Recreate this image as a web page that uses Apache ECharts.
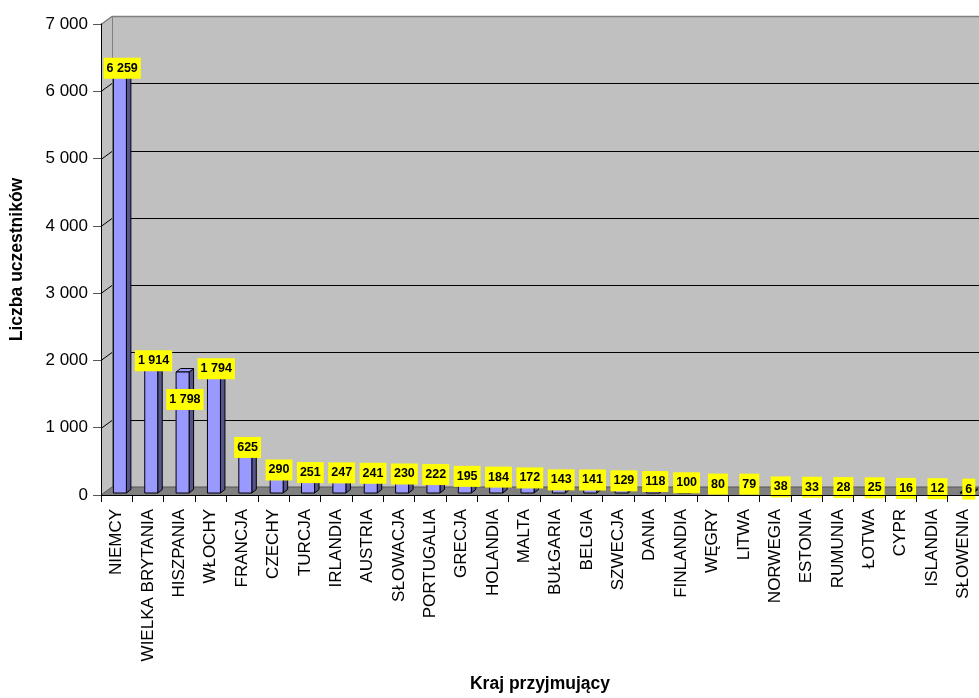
<!DOCTYPE html>
<html>
<head>
<meta charset="utf-8">
<script src="https://cdn.jsdelivr.net/npm/echarts@6/dist/echarts.min.js"></script>
<style>
  html, body { margin: 0; padding: 0; background: #ffffff; }
  #chart { width: 979px; height: 698px; }
</style>
</head>
<body>
<div id="chart"></div>
<script>
// Host countries, in the order they are plotted
const categories = [
  'NIEMCY', 'WIELKA BRYTANIA', 'HISZPANIA', 'WŁOCHY', 'FRANCJA', 'CZECHY', 'TURCJA',
  'IRLANDIA', 'AUSTRIA', 'SŁOWACJA', 'PORTUGALIA', 'GRECJA', 'HOLANDIA', 'MALTA',
  'BUŁGARIA', 'BELGIA', 'SZWECJA', 'DANIA', 'FINLANDIA', 'WĘGRY', 'LITWA', 'NORWEGIA',
  'ESTONIA', 'RUMUNIA', 'ŁOTWA', 'CYPR', 'ISLANDIA', 'SŁOWENIA'
];

// Number of participants per host country
const participants = [
  6259, 1914, 1798, 1794, 625, 290, 251, 247, 241, 230, 222, 195, 184, 172,
  143, 141, 129, 118, 100, 80, 79, 38, 33, 28, 25, 16, 12, 6
];

// Value axis range and step
const yMin = 0;
const yMax = 7000;
const yStep = 1000;

const xTitle = 'Kraj przyjmujący';
const yTitle = 'Liczba uczestników';

// ---- styling ----
const FONT = '"Liberation Sans", Arial, sans-serif';
const WALL_DEPTH = { x: 11, y: -8 };       // perspective offset of the back wall
const BAR_FRONT = { x: 3.2, y: -2 };        // where the bar front sits inside the depth
const BAR_HALF = 6.5;                        // half width of the bar front face
const BAR_DEPTH = { x: 4.5, y: -3.5 };      // depth of each bar prism
const LABEL_DX = 5.5, LABEL_DY = -3.5;
const labelNudge = { 'HISZPANIA': 31 };      // keeps this label clear of its neighbours

const fmt = v => String(v).replace(/\B(?=(\d{3})+(?!\d))/g, ' ');

function renderWalls(params, api) {
  const cs = params.coordSys;
  const x0 = cs.x, x1 = cs.x + cs.width;
  const yB = api.coord([0, yMin])[1];
  const yT = api.coord([0, yMax])[1];
  const dx = WALL_DEPTH.x, dy = WALL_DEPTH.y;
  const children = [];
  // back wall
  children.push({ type: 'rect', shape: { x: x0 + dx, y: yT + dy, width: x1 - x0 + 20, height: yB - yT },
    style: { fill: '#c0c0c0' } });
  // side wall
  children.push({ type: 'polygon', shape: { points: [[x0, yB], [x0, yT], [x0 + dx, yT + dy], [x0 + dx, yB + dy]] },
    style: { fill: '#c0c0c0' } });
  // floor
  children.push({ type: 'polygon', shape: { points: [[x0, yB], [x0 + dx, yB + dy], [x1 + dx + 20, yB + dy], [x1 + 20, yB]] },
    style: { fill: '#808080' } });
  // grid lines on side and back wall
  for (let v = yMin + yStep; v < yMax; v += yStep) {
    const y = Math.round(api.coord([0, v])[1]) + 0.5;
    children.push({ type: 'polyline', shape: { points: [[x0, y], [x0 + dx, y + dy], [x1 + 30, y + dy]] },
      style: { stroke: '#000000', lineWidth: 1, fill: null } });
  }
  // wall edges
  const yt = Math.round(yT) + 0.5;
  children.push({ type: 'polyline', shape: { points: [[x0, yt], [x0 + dx, yt + dy], [x1 + 30, yt + dy]] },
    style: { stroke: '#808080', lineWidth: 1.5, fill: null } });
  children.push({ type: 'line', shape: { x1: x0 + dx + 0.5, y1: yt + dy, x2: x0 + dx + 0.5, y2: yB + dy } ,
    style: { stroke: '#808080', lineWidth: 1 } });
  children.push({ type: 'polyline', shape: { points: [[x0, yB], [x0 + dx, yB + dy], [x1 + 30, yB + dy]] },
    style: { stroke: '#555555', lineWidth: 1, fill: null } });
  return { type: 'group', children };
}

function renderBar(params, api) {
  const i = api.value(0);
  const v = api.value(1);
  const base = api.coord([i, 0]);
  const top = api.coord([i, v]);
  const c = base[0];
  const fx0 = c + BAR_FRONT.x - BAR_HALF;
  const fx1 = c + BAR_FRONT.x + BAR_HALF;
  const by = base[1] + BAR_FRONT.y;
  const ty = top[1] + BAR_FRONT.y;
  const ddx = BAR_DEPTH.x, ddy = BAR_DEPTH.y;
  const edge = { stroke: '#000000', lineWidth: 1, lineJoin: 'miter' };
  const nudge = labelNudge[categories[i]] || 0;
  return {
    type: 'group',
    children: [
      { type: 'polygon', shape: { points: [[fx1, ty], [fx1 + ddx, ty + ddy], [fx1 + ddx, by + ddy], [fx1, by]] },
        style: Object.assign({ fill: '#55558c' }, edge) },
      { type: 'polygon', shape: { points: [[fx0, ty], [fx0 + ddx, ty + ddy], [fx1 + ddx, ty + ddy], [fx1, ty]] },
        style: Object.assign({ fill: '#9999ff' }, edge) },
      { type: 'rect', shape: { x: fx0, y: ty, width: fx1 - fx0, height: by - ty },
        style: Object.assign({ fill: '#9999ff' }, edge) },
      { type: 'text', z2: 100,
        x: c + LABEL_DX, y: ty + LABEL_DY + nudge,
        style: {
          text: fmt(v), align: 'center', verticalAlign: 'middle',
          font: 'bold 12.5px ' + FONT, fill: '#000000',
          backgroundColor: '#ffff00', padding: [4, 3, 4, 3]
        } }
    ]
  };
}

const chart = echarts.init(document.getElementById('chart'), null, { renderer: 'canvas' });
chart.setOption({
  animation: false,
  backgroundColor: '#ffffff',
  textStyle: { fontFamily: FONT },
  grid: { left: 101, right: -1, top: 24, bottom: 200, containLabel: false },
  xAxis: {
    type: 'category',
    data: categories,
    z: 10,
    name: xTitle,
    nameLocation: 'middle',
    nameGap: 180,
    nameTextStyle: { fontSize: 17.5, fontWeight: 'bold', color: '#000', fontFamily: FONT },
    axisLine: { lineStyle: { color: '#000000', width: 1 } },
    axisTick: { show: true, length: 7, lineStyle: { color: '#000000' } },
    axisLabel: { rotate: 90, interval: 0, margin: 14, fontSize: 17, color: '#000', fontFamily: FONT }
  },
  yAxis: {
    type: 'value',
    min: yMin, max: yMax, interval: yStep,
    z: 10,
    name: yTitle,
    nameLocation: 'middle',
    nameGap: 75,
    nameRotate: 90,
    nameTextStyle: { fontSize: 17.5, fontWeight: 'bold', color: '#000', fontFamily: FONT },
    axisLine: { show: true, lineStyle: { color: '#000000', width: 1 } },
    axisTick: { show: true, length: 8, lineStyle: { color: '#555555' } },
    splitLine: { show: false },
    axisLabel: { margin: 13, fontSize: 17, color: '#000', fontFamily: FONT, formatter: v => fmt(v) }
  },
  series: [
    { type: 'custom', z: 1, silent: true, clip: false, renderItem: renderWalls, data: [[0, 0]] },
    { type: 'custom', z: 3, clip: false, renderItem: renderBar,
      data: participants.map((v, i) => [i, v]) }
  ]
});
</script>
</body>
</html>
